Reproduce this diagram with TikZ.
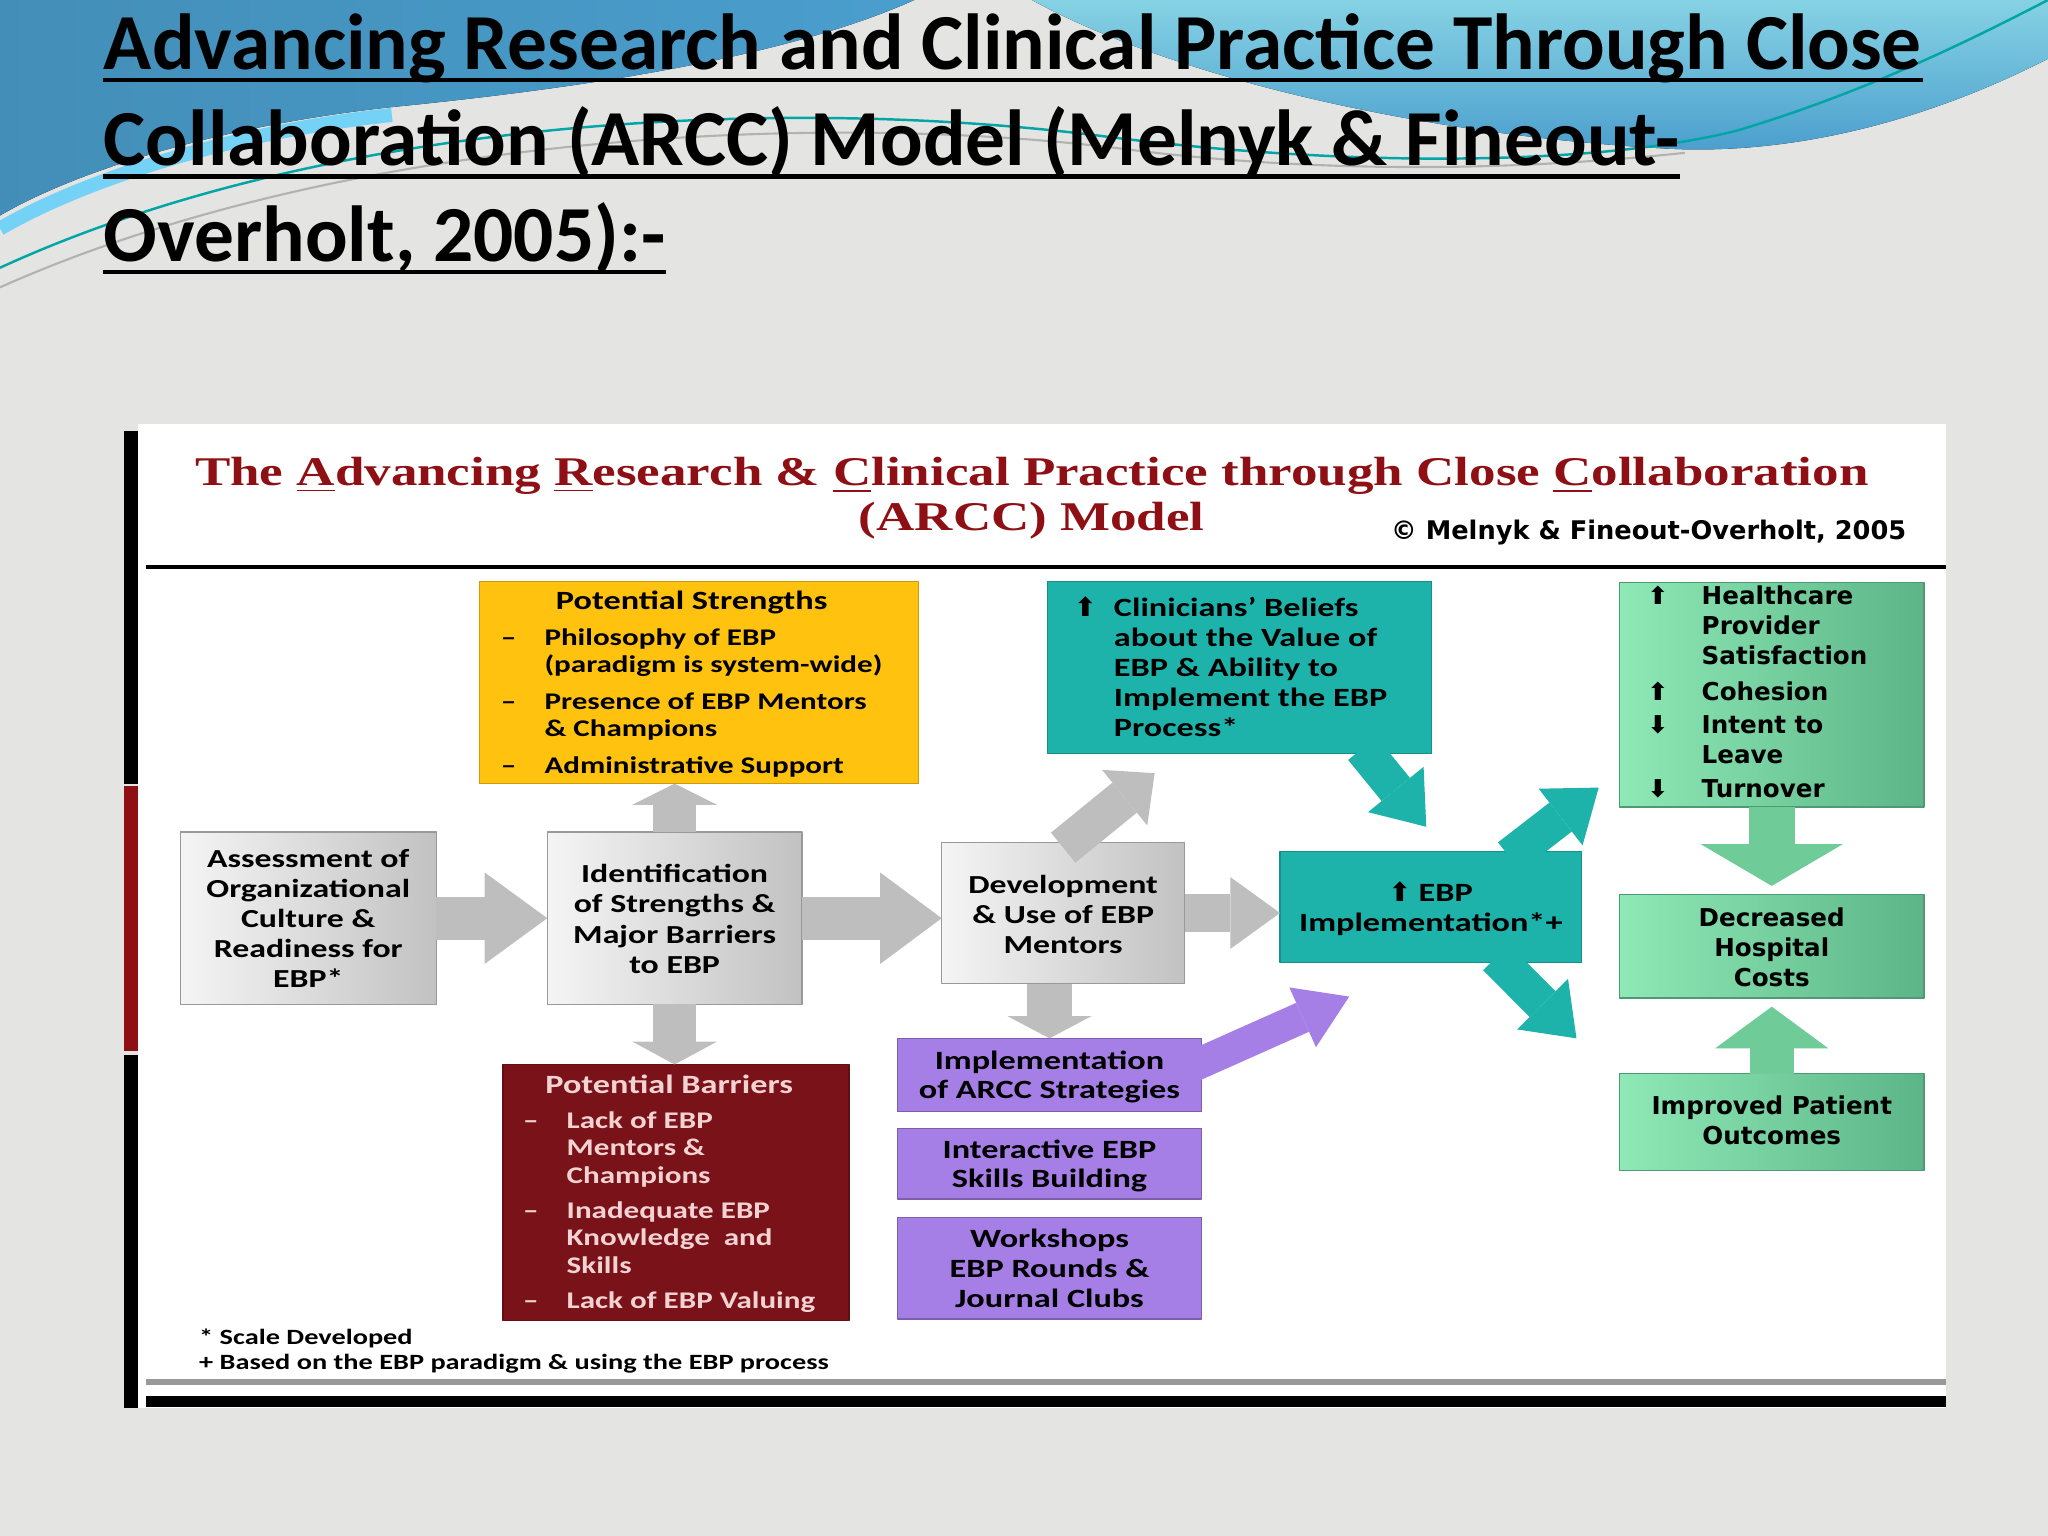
\documentclass[tikz,border=0pt]{standalone}
\usepackage{fontspec}
\setmainfont{Carlito}
\newfontfamily\calib{Carlito}[FakeStretch=1.3]
\newfontfamily\verd{DejaVu Sans}
\newfontfamily\camb{Liberation Serif}[FakeStretch=1.3]
\usetikzlibrary{arrows.meta,calc,fit}

\definecolor{slidebg}{HTML}{E4E4E2}
\definecolor{swoopblue}{HTML}{4A9ECD}
\definecolor{swoopcyan}{HTML}{86D2E4}
\definecolor{arccred}{HTML}{8E0F14}
\definecolor{barrred}{HTML}{7A121A}
\definecolor{barrtext}{HTML}{F3D2D2}
\definecolor{strengthyellow}{HTML}{FFC20E}
\definecolor{arccteal}{HTML}{1DB3AB}
\definecolor{arccpurple}{HTML}{A67FE6}
\definecolor{greenlight}{HTML}{8FE9B6}
\definecolor{greendark}{HTML}{5BB587}
\definecolor{greenarrow}{HTML}{6FCB98}
\definecolor{arrowgray}{HTML}{BEBEBE}

% centred lines, baseline on the first one
\newcommand\lines[1]{\begin{tabular}[t]{@{}c@{}}#1\end{tabular}}

\tikzset{
  box/.style={inner sep=0pt, outer sep=0pt},
  graybox/.style={box, draw=black!40, left color=black!4, right color=black!24},
  yellowbox/.style={box, draw=strengthyellow!80!black, fill=strengthyellow},
  barrbox/.style={box, draw=barrred!80!black, fill=barrred},
  tealbox/.style={box, draw=arccteal!80!black, fill=arccteal},
  purplebox/.style={box, draw=arccpurple!75!black, fill=arccpurple},
  greenbox/.style={box, draw=greendark!85!black, left color=greenlight, right color=greendark},
  boxtext/.style={anchor=base, inner sep=0pt, font=\calib\bfseries\fontsize{7.4}{8.55}\selectfont},
  greentext/.style={boxtext, font=\verd\bfseries\fontsize{7}{8.55}\selectfont},
  listtext/.style={anchor=base west, inner sep=0pt, font=\calib\bfseries\fontsize{6.8}{7.8}\selectfont},
  blockarr/.style n args={4}{draw=#1, line width=#2,
    -{Triangle[width=#3, length=#4, line width=0pt]}},
  titleline/.style={anchor=base west, inner sep=0pt, font=\bfseries\fontsize{22.6}{27}\selectfont},
}

\begin{document}
\begin{tikzpicture}[x=0.01306cm, y=-0.01306cm, line join=round]
\useasboundingbox (0,0) rectangle (1568,1176);
% slide background
\fill[slidebg] (0,0) rectangle (1568,1176);
\fill[left color=swoopblue!90!black, right color=swoopblue] (0,0) -- (700,0)
  .. controls (600,45) and (440,68) .. (300,82) .. controls (170,96) and (60,130) .. (0,165) -- cycle;
\draw[cyan!55, line width=4pt] (0,175) .. controls (60,140) and (170,102) .. (300,88);
\fill[top color=swoopcyan, bottom color=swoopblue] (790,0) -- (1568,0) -- (1568,45)
  .. controls (1470,95) and (1370,118) .. (1280,114) .. controls (1090,104) and (900,60) .. (790,0) -- cycle;
\draw[teal!70!cyan, line width=0.7pt] (0,205) .. controls (250,90) and (600,72) .. (850,105)
  .. controls (1050,130) and (1230,125) .. (1330,100) .. controls (1430,70) and (1510,30) .. (1568,0);
\draw[black!30, line width=0.6pt] (0,220) .. controls (260,104) and (620,84) .. (860,114)
  .. controls (1000,132) and (1150,132) .. (1290,117);

% slide title
\node[titleline] (t1) at (79,53) {Advancing Research and Clinical Practice Through Close};
\node[titleline] (t2) at (79,127) {Collaboration (ARCC) Model (Melnyk \& Fineout-};
\node[titleline] (t3) at (79,200) {Overholt, 2005):-};
\foreach \t in {t1,t2,t3}
  \draw[line width=1.2pt] ([yshift=-3pt]\t.base west) -- ([yshift=-3pt]\t.base east);

% figure panel
\fill[white] (106,325) rectangle (1490,1078);
\fill[black] (95,330) rectangle (106,600);
\fill[arccred] (95,602) rectangle (106,805);
\fill[black] (95,808) rectangle (106,1078);
\node[anchor=base, inner sep=0pt, text=arccred, font=\camb\bfseries\fontsize{11.6}{12.6}\selectfont] (head1) at (790,372)
  {The \underline{A}dvancing \underline{R}esearch \& \underline{C}linical Practice through Close \underline{C}ollaboration};
\node[anchor=base, inner sep=0pt, text=arccred, font=\camb\bfseries\fontsize{11.6}{12.6}\selectfont] (head2) at (790,406) {(ARCC) Model};
\node[anchor=base east, inner sep=0pt, font=\verd\bfseries\fontsize{7.3}{8}\selectfont] (copy) at (1460,413)
  {© Melnyk \& Fineout-Overholt, 2005};
\draw[line width=1.3pt] (112,434) -- (1490,434);
\draw[black!40, line width=1.5pt] (112,1058) -- (1490,1058);
\draw[line width=3pt] (112,1073) -- (1490,1073);

% boxes
\node[graybox, fit={(138,637) (334,769)}] (assess) {};
\node[boxtext] at ($(assess.north)+(0,27)$) {\lines{Assessment of\\Organizational\\Culture \&\\Readiness for\\EBP*}};
\node[graybox, fit={(419,637) (614,769)}] (ident) {};
\node[boxtext] at ($(ident.north)+(0,39)$) {\lines{Identification\\of Strengths \&\\Major Barriers\\to EBP}};
\node[graybox, fit={(721,645) (907,753)}] (devel) {};
\node[boxtext] at ($(devel.north)+(0,39)$) {\lines{Development\\\& Use of EBP\\Mentors}};

\node[yellowbox, fit={(367,445) (703,600)}] (strengths) {};
\node[listtext] (strengthtext) at ($(strengths.north west)+(16,22)$) {%
  \begin{tabular}[t]{@{}l@{\hspace{8pt}}l@{}}
  \multicolumn{2}{c}{\fontsize{7.5}{9}\selectfont Potential Strengths}\\[2.2pt]
  – & Philosophy of EBP\\ & (paradigm is system-wide)\\[2.6pt]
  – & Presence of EBP Mentors\\ & \& Champions\\[2.6pt]
  – & Administrative Support
  \end{tabular}};
\node[barrbox, fit={(385,815) (650,1011)}] (barriers) {};
\node[listtext, text=barrtext] (barriertext) at ($(barriers.north west)+(15,22)$) {%
  \begin{tabular}[t]{@{}l@{\hspace{8pt}}l@{}}
  \multicolumn{2}{c}{\fontsize{7.5}{9}\selectfont Potential Barriers}\\[2.2pt]
  – & Lack of EBP\\ & Mentors \&\\ & Champions\\[2.2pt]
  – & Inadequate EBP\\ & Knowledge\ \ and\\ & Skills\\[2.2pt]
  – & Lack of EBP Valuing
  \end{tabular}};

\node[tealbox, fit={(802,445) (1096,577)}] (clin) {};
\node[listtext, font=\calib\bfseries\fontsize{7.5}{8.55}\selectfont] (clintext) at ($(clin.north west)+(20,27)$) {%
  \begin{tabular}[t]{@{}c@{\hspace{5pt}}l@{}}
  {\verd ⬆} & Clinicians’ Beliefs\\ & about the Value of\\ & EBP \& Ability to\\ & Implement the EBP\\ & Process*
  \end{tabular}};
\node[tealbox, fit={(980,652) (1211,737)}] (impl) {};
\node[boxtext, font=\calib\bfseries\fontsize{7.5}{8.55}\selectfont] at ($(impl.north)+(0,38)$) {\lines{{\verd ⬆} EBP\\Implementation*+}};

\node[purplebox, fit={(687,795) (920,851)}] (arcc) {};
\node[boxtext, font=\calib\bfseries\fontsize{7.5}{8.3}\selectfont] at ($(arcc.north)+(0,24)$) {\lines{Implementation\\of ARCC Strategies}};
\node[purplebox, fit={(687,864) (920,918)}] (inter) {};
\node[boxtext, font=\calib\bfseries\fontsize{7.5}{8.3}\selectfont] at ($(inter.north)+(0,23)$) {\lines{Interactive EBP\\Skills Building}};
\node[purplebox, fit={(687,932) (920,1010)}] (works) {};
\node[boxtext, font=\calib\bfseries\fontsize{7.5}{8.55}\selectfont] at ($(works.north)+(0,23)$) {\lines{Workshops\\EBP Rounds \&\\Journal Clubs}};

\node[greenbox, fit={(1240,446) (1473,618)}] (outc) {};
\node[listtext, font=\verd\bfseries\fontsize{7}{8.55}\selectfont] (outctext) at ($(outc.north west)+(21,17)$) {%
  \begin{tabular}[t]{@{}c@{\hspace{9.5pt}}l@{}}
  ⬆ & Healthcare\\ & Provider\\ & Satisfaction\\[1.5pt]
  ⬆ & Cohesion\\[1pt]
  ⬇ & Intent to\\ & Leave\\[1pt]
  ⬇ & Turnover
  \end{tabular}};
\node[greenbox, fit={(1240,685) (1473,764)}] (costs) {};
\node[greentext] at ($(costs.north)+(0,24)$) {\lines{Decreased\\Hospital\\Costs}};
\node[greenbox, fit={(1240,822) (1473,896)}] (improved) {};
\node[greentext] at ($(improved.north)+(0,31)$) {\lines{Improved Patient\\Outcomes}};

% block arrows
\coordinate (gtip) at (884,592);
\coordinate (ctip) at (1092,633);
\coordinate (utip) at (1224,603);
\coordinate (dtip) at (1207,795);
\coordinate (ptip) at (1033,763);
\draw[blockarr={arrowgray}{12.3pt}{26pt}{17.8pt}] (assess.east) -- (ident.west);
\draw[blockarr={arrowgray}{12.3pt}{26pt}{17.5pt}] (ident.east) -- (ident.east -| devel.west);
\draw[blockarr={arrowgray}{10.8pt}{20.4pt}{14.1pt}] (devel.east) -- (devel.east -| impl.west);
\draw[blockarr={arrowgray}{12.3pt}{24pt}{6pt}] (ident.north) -- (ident.north |- strengths.south);
\draw[blockarr={arrowgray}{12.3pt}{24pt}{6.5pt}] (ident.south) -- (ident.south |- barriers.north);
\draw[blockarr={arrowgray}{12.6pt}{23.8pt}{6.3pt}] (arcc.north |- devel.south) -- (arcc.north);
\draw[blockarr={arrowgray}{11pt}{20.4pt}{11pt}] ($(devel.north)+(0,4)$) -- (gtip);
\draw[blockarr={arccteal}{10.4pt}{20.4pt}{13.7pt}] ($(clin.south)+(94,-4)$) -- (ctip);
\draw[blockarr={arccteal}{10.4pt}{20.4pt}{13.7pt}] ($(impl.north)+(60,4)$) -- (utip);
\draw[blockarr={arccteal}{10.4pt}{20.4pt}{13.7pt}] ($(impl.south)+(50,-4)$) -- (dtip);
\draw[blockarr={arccpurple}{9pt}{18.6pt}{14.5pt}] ($(arcc.east)+(-6,-7)$) -- (ptip);
\draw[blockarr={greenarrow}{13pt}{40.5pt}{11.9pt}, shorten >=2.5pt] (outc.south) -- (costs.north);
\draw[blockarr={greenarrow}{12.6pt}{32.3pt}{11.9pt}, shorten >=2.5pt] (improved.north) -- (costs.south);

% notes
\node[anchor=north west, inner sep=0pt, align=left, font=\calib\bfseries\fontsize{6.2}{7.1}\selectfont] (notes) at (152,1017)
  {* Scale Developed\\+ Based on the EBP paradigm \& using the EBP process};
\end{tikzpicture}
\end{document}
